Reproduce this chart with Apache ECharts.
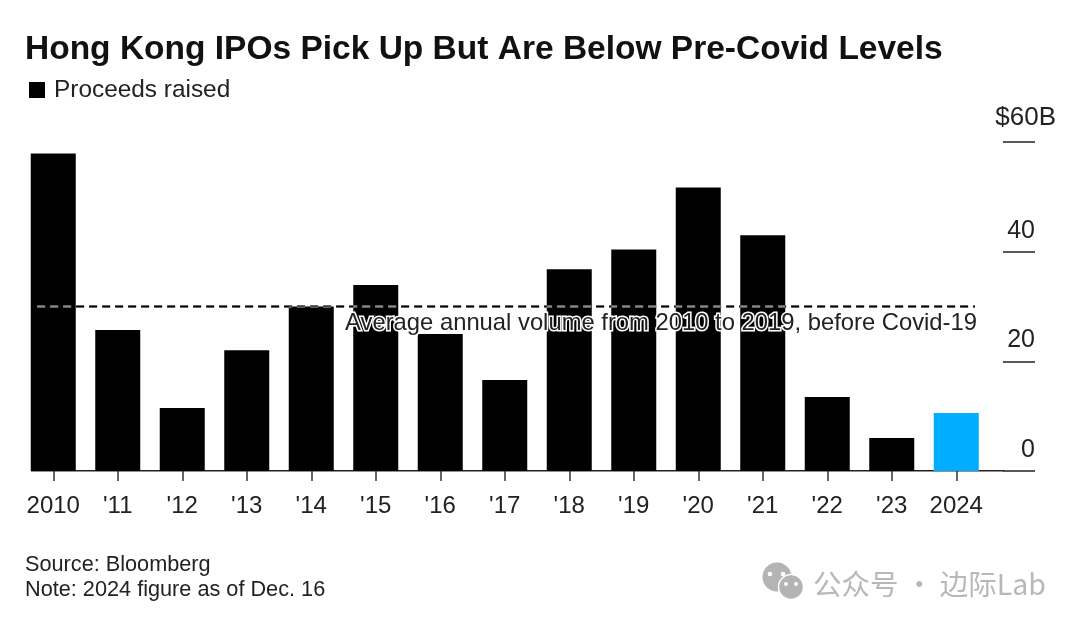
<!DOCTYPE html>
<html><head><meta charset="utf-8">
<style>html,body{margin:0;padding:0;background:#fff}#c{width:1080px;height:626px}</style>
<script src="https://cdn.jsdelivr.net/npm/echarts@6/dist/echarts.min.js"></script>
</head><body><div id="c"></div>
<script>
const categories = ["2010","'11","'12","'13","'14","'15","'16","'17","'18","'19","'20","'21","'22","'23","2024"];
const proceeds = [57.9,25.7,11.5,22,30,33.9,25,16.6,36.8,40.4,51.7,43,13.5,6,10.6];
const averageLine = [[-0.25,30],[14.29,30]];
const yTicks = {0:'0',20:'20',40:'40',60:''};
const topTickText = '$60B';
const titleText = 'Hong Kong IPOs Pick Up But Are Below Pre-Covid Levels';
const averageText = 'Average annual volume from 2010 to 2019, before Covid-19';
const FONT = '"Liberation Sans", Arial, sans-serif';
const chart = echarts.init(document.getElementById('c'), null, {renderer:'canvas'});
const dash = {width:2,type:[8,5]};
chart.setOption({
  animation:false,
  backgroundColor:'#fff',
  textStyle:{fontFamily:FONT},
  title:{text:titleText,left:25,top:33,padding:0,textStyle:{fontFamily:FONT,fontWeight:'bold',fontSize:33.5,color:'#111'}},
  legend:{left:29,top:78,padding:0,itemWidth:16,itemHeight:16,itemGap:9,icon:'rect',data:['Proceeds raised'],selectedMode:false,
    textStyle:{fontFamily:FONT,fontSize:24.4,color:'#222',padding:[0,0,0,4]}},
  grid:[
    {left:21,top:142,width:967.5,height:329},
    {left:1003,top:142,width:32,height:329}
  ],
  xAxis:[
    {type:'category',gridIndex:0,data:categories,axisLine:{show:false},
     axisTick:{show:true,alignWithLabel:true,length:10,lineStyle:{color:'#333',width:1.5}},
     axisLabel:{fontFamily:FONT,fontSize:24,color:'#222',margin:23,interval:0}},
    {type:'value',gridIndex:0,min:-0.5,max:14.5,show:false},
    {type:'value',gridIndex:1,min:0,max:1,show:false}
  ],
  yAxis:[
    {type:'value',gridIndex:0,min:0,max:60,interval:20,show:false},
    {type:'value',gridIndex:1,min:0,max:60,interval:20,position:'right',
     axisLine:{show:false},axisTick:{show:false},
     splitLine:{show:true,lineStyle:{color:'#222',width:1.5}},
     axisLabel:{inside:true,margin:0,fontFamily:FONT,fontSize:25,color:'#222',align:'right',verticalAlign:'bottom',lineHeight:42,
       formatter:v=>yTicks[v]}}
  ],
  series:[
    {name:'Proceeds raised',type:'bar',barWidth:45,itemStyle:{color:'#000'},
     data:proceeds.map((v,i)=>i===proceeds.length-1?{value:v,itemStyle:{color:'#00adff'}}:v),z:2},
    {name:'Average',type:'line',xAxisIndex:1,yAxisIndex:0,data:averageLine,symbol:'none',silent:true,z:3,blendMode:'difference',
     lineStyle:{color:'#fff',...dash}},
    {name:'Average overlay',type:'line',xAxisIndex:1,yAxisIndex:0,data:averageLine,symbol:'none',silent:true,z:4,blendMode:'multiply',
     lineStyle:{color:'#888',...dash}}
  ],
  graphic:[
    {type:'rect',z:1,shape:{x:31,y:470,width:973,height:1.5},style:{fill:'#222'}},
    {type:'text',z:10,x:1056,y:118,style:{text:topTickText,fontFamily:FONT,fontSize:26,fill:'#222',align:'right',verticalAlign:'middle'}},
    {type:'text',z:10,x:977,y:323,style:{text:averageText,fontFamily:FONT,fontSize:23.8,fill:'#222',align:'right',verticalAlign:'middle',stroke:'#fff',lineWidth:3}},
    {type:'text',x:25,y:554,style:{text:'Source: Bloomberg',fontFamily:FONT,fontSize:21.7,fill:'#222'}},
    {type:'text',x:25,y:579,style:{text:'Note: 2024 figure as of Dec. 16',fontFamily:FONT,fontSize:21.7,fill:'#222'}},
    {type:'text',x:813,y:570,style:{text:'公众号 · 边际Lab',fontFamily:'"Noto Sans CJK SC", sans-serif',fontSize:28.5,fill:'#b8b8b8'}},
    {type:'circle',shape:{cx:777,cy:577,r:14.5},style:{fill:'#b4b4b4'}},
    {type:'circle',shape:{cx:791,cy:587,r:12.5},style:{fill:'#b4b4b4',stroke:'#fff',lineWidth:1.5}},
    {type:'circle',shape:{cx:770,cy:574,r:2.3},style:{fill:'#fff'}},
    {type:'circle',shape:{cx:783,cy:574,r:2.3},style:{fill:'#fff'}},
    {type:'circle',shape:{cx:786,cy:584,r:2},style:{fill:'#fff'}},
    {type:'circle',shape:{cx:796,cy:584,r:2},style:{fill:'#fff'}}
  ]
});
</script></body></html>
